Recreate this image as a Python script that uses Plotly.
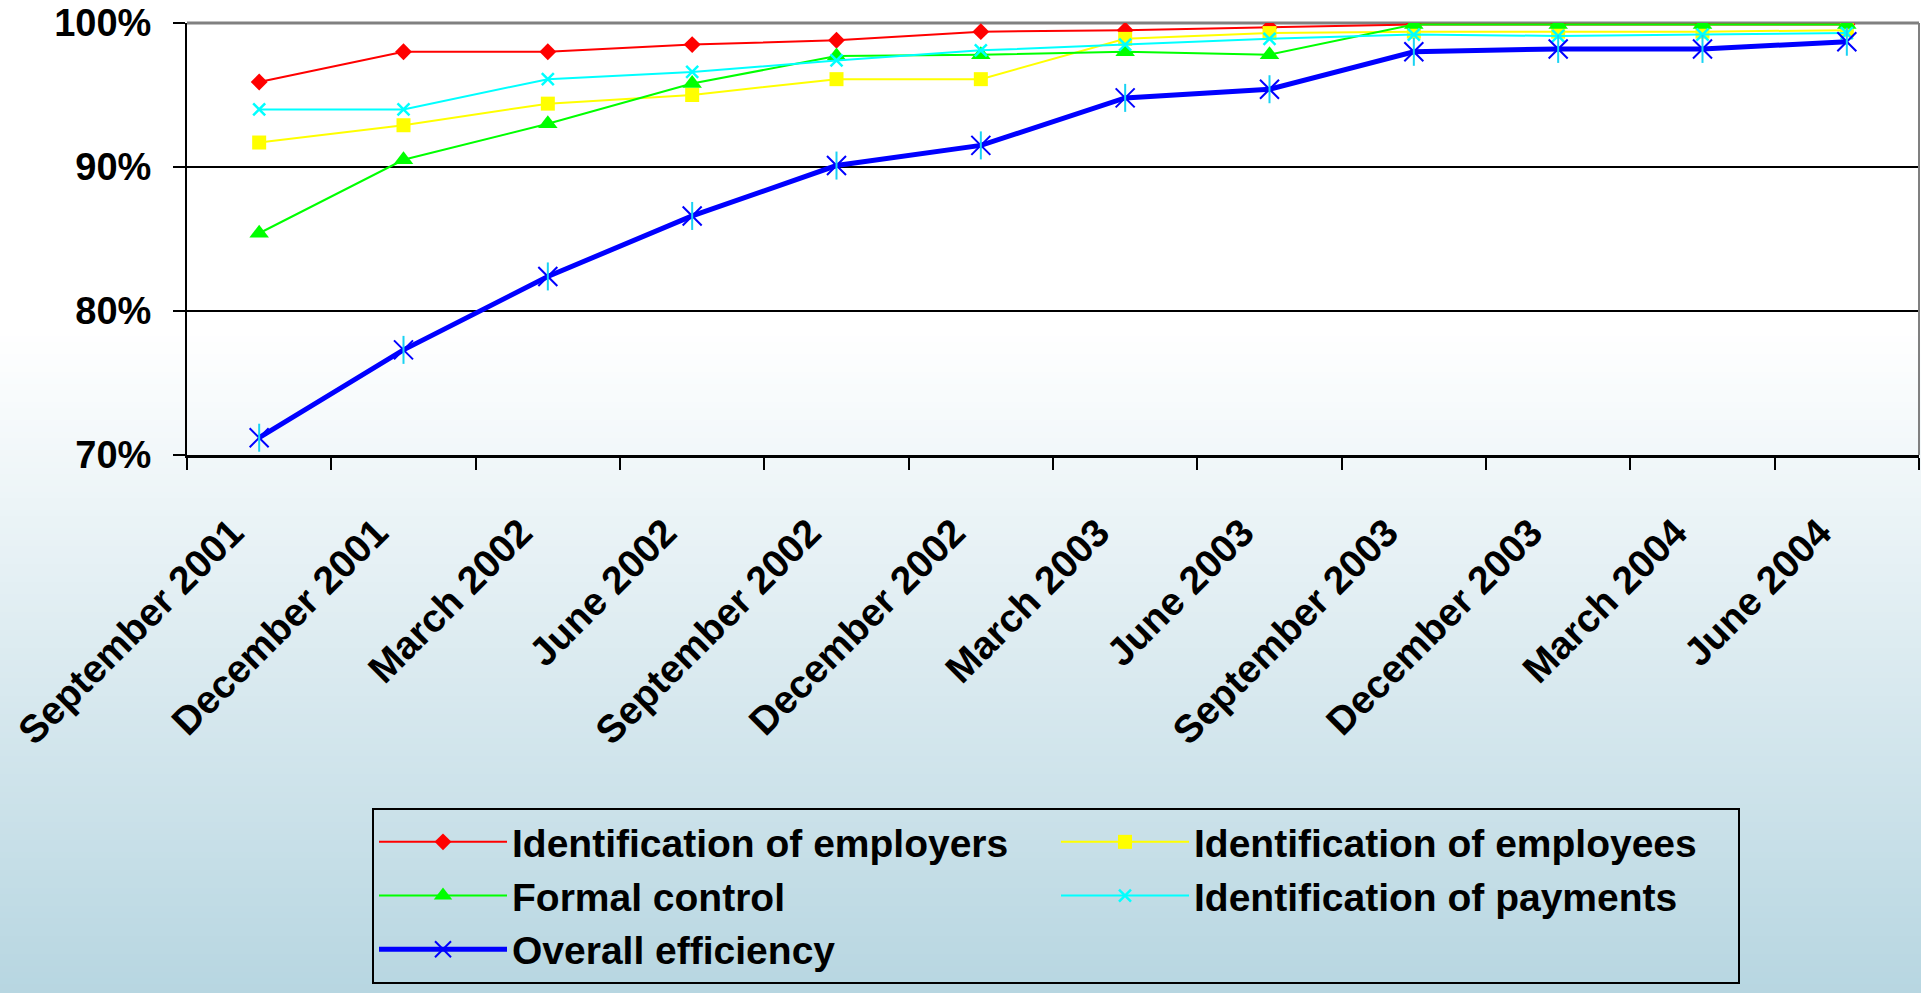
import plotly.graph_objects as go

# Quarterly reporting periods
periods = [
    "September 2001", "December 2001", "March 2002", "June 2002",
    "September 2002", "December 2002", "March 2003", "June 2003",
    "September 2003", "December 2003", "March 2004", "June 2004",
]

# Share of records processed correctly (%)
employers = [95.9, 98.0, 98.0, 98.5, 98.8, 99.4, 99.5, 99.7, 99.9, 99.9, 99.9, 99.9]
employees = [91.7, 92.9, 94.4, 95.0, 96.1, 96.1, 98.9, 99.3, 99.4, 99.4, 99.4, 99.5]
formal_control = [85.4, 90.5, 93.0, 95.8, 97.7, 97.8, 98.0, 97.8, 99.9, 99.9, 99.9, 99.9]
payments = [94.0, 94.0, 96.1, 96.6, 97.4, 98.1, 98.5, 98.9, 99.2, 99.1, 99.2, 99.3]
overall = [71.2, 77.3, 82.4, 86.6, 90.1, 91.5, 94.8, 95.4, 98.0, 98.2, 98.2, 98.7]

y_ticks = [70, 80, 90, 100]
y_tick_labels = ["70%", "80%", "90%", "100%"]
gridline_levels = [80, 90]

W, H = 1921, 993
M_L, M_R, M_T, M_B = 187, 2, 23, 538
PLOT_W = W - M_L - M_R
PLOT_H = H - M_T - M_B

FONT = "Liberation Sans, Arial, sans-serif"

fig = go.Figure()

fig.add_trace(go.Scatter(
    x=periods, y=employers, name="Identification of employers",
    mode="lines+markers",
    line=dict(color="#FF0000", width=2),
    marker=dict(symbol="diamond", size=13, color="#FF0000"),
))
fig.add_trace(go.Scatter(
    x=periods, y=employees, name="Identification of employees",
    mode="lines+markers",
    line=dict(color="#FFFF00", width=2),
    marker=dict(symbol="square", size=14, color="#FFFF00"),
))
fig.add_trace(go.Scatter(
    x=periods, y=formal_control, name="Formal control",
    mode="lines+markers",
    line=dict(color="#00FF00", width=2),
    marker=dict(symbol="triangle-up", size=17, color="#00FF00"),
))
fig.add_trace(go.Scatter(
    x=periods, y=payments, name="Identification of payments",
    mode="lines+markers",
    line=dict(color="#00FFFF", width=2),
    marker=dict(symbol="x-thin-open", size=12,
                line=dict(color="#00FFFF", width=2.5)),
))
fig.add_trace(go.Scatter(
    x=periods, y=overall, name="Overall efficiency",
    mode="lines+markers", legendgroup="overall",
    line=dict(color="#0000FF", width=5),
    marker=dict(symbol="x-thin-open", size=19,
                line=dict(color="#0000FF", width=2)),
))
# vertical arm of the asterisk markers
fig.add_trace(go.Scatter(
    x=periods, y=overall, name="Overall efficiency",
    mode="markers", legendgroup="overall", showlegend=False,
    marker=dict(symbol="line-ns-open", size=20,
                line=dict(color="#0000FF", width=2)),
))

# Background: white fading into pale blue toward the bottom
shapes = []
top_c = (255, 255, 255)
bot_c = (183, 214, 225)
g_start, g_end = 330, H
step = 6
py = 0
while py < H:
    t = 0.0 if py + step / 2 < g_start else min(1.0, (py + step / 2 - g_start) / (g_end - g_start))
    col = tuple(round(a + (b - a) * t) for a, b in zip(top_c, bot_c))
    y_hi = (H - M_B - py) / PLOT_H
    y_lo = (H - M_B - (py + step + 1)) / PLOT_H
    shapes.append(dict(
        type="rect", xref="paper", yref="paper", layer="below",
        x0=-0.2, x1=1.1, y0=y_lo, y1=y_hi,
        fillcolor="rgb(%d,%d,%d)" % col, line=dict(width=0),
    ))
    py += step

# horizontal gridlines
for lvl in gridline_levels:
    shapes.append(dict(
        type="line", xref="x domain", yref="y", layer="below",
        x0=0, x1=1, y0=lvl, y1=lvl, line=dict(color="black", width=2),
    ))
# grey frame on top and right of the plot area
shapes.append(dict(type="line", xref="x domain", yref="y domain", layer="below",
                   x0=0, x1=1, y0=1, y1=1, line=dict(color="#808080", width=3)))
shapes.append(dict(type="line", xref="x domain", yref="y domain", layer="below",
                   x0=1, x1=1, y0=0, y1=1, line=dict(color="#808080", width=2)))

fig.update_layout(
    width=W, height=H, autosize=False,
    margin=dict(l=M_L, r=M_R, t=M_T, b=M_B, pad=0),
    paper_bgcolor="white",
    plot_bgcolor="rgba(0,0,0,0)",
    font=dict(family=FONT, size=37, color="black", weight="bold"),
    shapes=shapes,
    showlegend=True,
    legend=dict(
        orientation="h",
        x=(372 - M_L) / PLOT_W, xanchor="left",
        y=(H - M_B - 808) / PLOT_H, yanchor="top",
        bgcolor="rgba(0,0,0,0)",
        bordercolor="black", borderwidth=2,
        font=dict(family=FONT, size=39, color="black", weight="bold"),
        entrywidth=539, entrywidthmode="pixels",
        itemwidth=128,
        traceorder="normal",
    ),
    xaxis=dict(
        type="category",
        categoryorder="array", categoryarray=periods,
        range=[-0.5, len(periods) - 0.5],
        tickson="boundaries",
        ticks="outside", ticklen=12, tickwidth=2, tickcolor="black",
        showline=True, linecolor="black", linewidth=3,
        showgrid=False, zeroline=False,
        tickangle=-45,
        ticklabelstandoff=36, ticklabelshift=-27,
        tickfont=dict(family=FONT, size=39, color="black", weight="bold"),
    ),
    yaxis=dict(
        range=[70, 100],
        tickvals=y_ticks, ticktext=y_tick_labels,
        ticks="outside", ticklen=12, tickwidth=2, tickcolor="black",
        showline=True, linecolor="black", linewidth=2,
        showgrid=False, zeroline=False,
        ticklabelstandoff=14,
        tickfont=dict(family=FONT, size=38, color="black", weight="bold"),
    ),
)

fig.write_html("out.html")
